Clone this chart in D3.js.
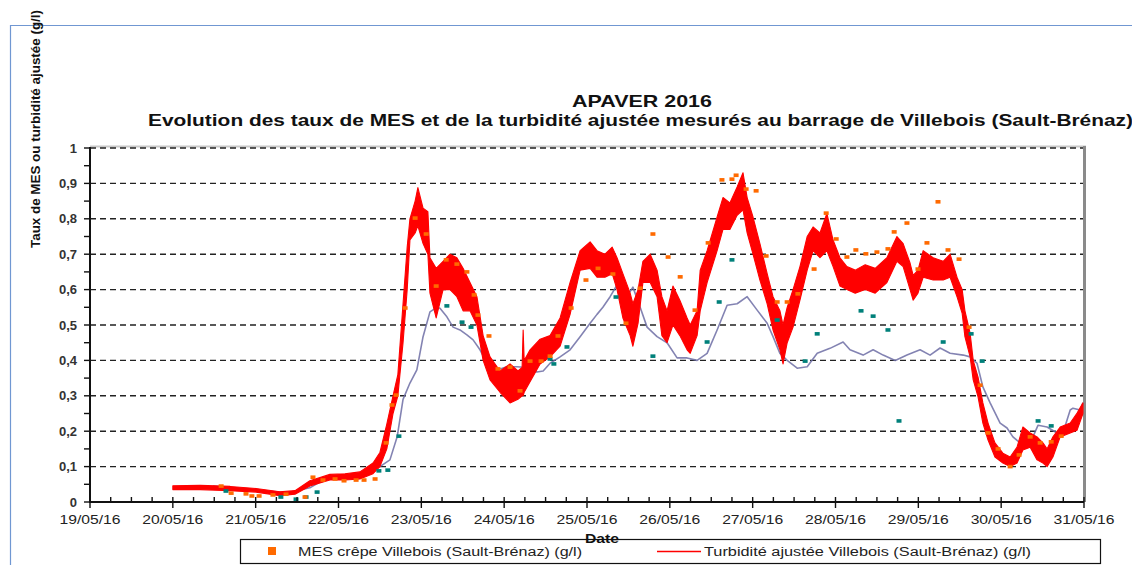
<!DOCTYPE html>
<html>
<head>
<meta charset="utf-8">
<script src="https://cdn.jsdelivr.net/npm/d3@7/dist/d3.min.js"></script>
<style>
  html, body { margin: 0; padding: 0; background: #fff; }
  svg { display: block; font-family: Arial, "Liberation Sans", sans-serif; }
</style>
</head>
<body>
<svg id="chart" width="1132" height="565"></svg>
<script>
// times are hours counted from 19/05/2016 00:00
const dayLabels = ['19/05/16','20/05/16','21/05/16','22/05/16','23/05/16','24/05/16',
  '25/05/16','26/05/16','27/05/16','28/05/16','29/05/16','30/05/16','31/05/16'];
const yTicks = [0, 0.1, 0.2, 0.3, 0.4, 0.5, 0.6, 0.7, 0.8, 0.9, 1];
const yTickLabels = ['0','0,1','0,2','0,3','0,4','0,5','0,6','0,7','0,8','0,9','1'];

// turbidité ajustée (red) : noisy signal kept as a low / high envelope
const redHours = [24,31.9,40.6,48.1,55,59.4,63.7,69.5,73.9,78.2,82,84,86,87.8,89.2,90.7,91.9,92.7,94.2,95,
  96.5,97.9,98.5,100.3,102.3,104.3,106.3,108.1,110.1,112.1,113.9,115.9,118.8,121.7,124,125.2,125.5,125.8,127.5,
  130.4,133.3,136.2,139.1,142,144.9,146.9,149.2,151.3,152.7,154.4,156.5,157.3,158.8,160.2,162.3,164.3,165.7,
  167.2,168.9,170.9,173,173.9,175.9,176.8,178.8,181.7,183.4,185.4,187.5,189.2,190.4,192.1,194.1,196.2,197.9,
  199.9,200.8,202,203.7,205.7,207.8,209.5,211.5,213.5,215.3,217.3,219.3,221.7,224.6,227.5,230.9,233.8,235.6,
  237.6,238.5,239.9,241.4,244.3,247.2,249.2,251.2,252.7,253.5,255,255.9,257.3,258.7,260.2,262.2,264.5,266.6,
  268.6,270.3,272.4,274.4,276.1,277.3,279,281.1,284,286,287.7];
const redLow = [.035,.035,.032,.028,.018,.022,.045,.062,.062,.065,.08,.1,.15,.25,.3,.45,.6,.74,.76,.78,
  .73,.7,.59,.52,.6,.6,.58,.54,.54,.5,.4,.345,.31,.28,.29,.3,.3,.31,.34,
  .39,.41,.44,.53,.655,.66,.635,.635,.645,.6,.52,.47,.44,.505,.62,.62,.58,.47,
  .45,.5,.47,.43,.42,.47,.54,.62,.71,.77,.77,.81,.825,.76,.7,.627,.56,.486,
  .43,.39,.45,.494,.57,.655,.71,.69,.71,.665,.61,.6,.59,.6,.59,.62,.68,.665,
  .6,.57,.59,.635,.627,.627,.635,.58,.533,.467,.41,.345,.297,.223,.175,.127,.11,.1,
  .11,.147,.155,.119,.11,.1,.127,.184,.195,.203,.25];
const redHigh = [.046,.047,.044,.038,.029,.032,.06,.078,.08,.085,.11,.14,.22,.3,.36,.56,.72,.8,.85,.888,
  .83,.82,.69,.66,.68,.7,.69,.66,.62,.58,.47,.41,.37,.39,.37,.38,.486,.4,.43,
  .46,.47,.52,.62,.71,.735,.71,.7,.72,.69,.645,.59,.56,.6,.68,.7,.655,.58,
  .54,.61,.57,.52,.5,.54,.655,.71,.805,.86,.845,.89,.93,.86,.805,.73,.645,.58,
  .54,.5,.55,.6,.665,.75,.777,.76,.815,.74,.69,.665,.655,.67,.66,.69,.75,.73,
  .675,.64,.655,.71,.69,.68,.7,.635,.6,.54,.477,.4,.353,.28,.223,.167,.138,.127,
  .155,.212,.195,.184,.167,.15,.184,.212,.223,.251,.28];

// smoothed grey-blue curve
const blueHours = [35.6,48.4,57.1,63.7,68.7,72.4,78.2,84,86.9,89,90.7,92.7,94.7,96.5,98.5,100.5,101.4,103.4,
  105.2,107.2,109.2,111,113,115,117.9,120.8,123.7,126.6,129.5,131.3,133.3,136.2,139.1,142,144.9,146.9,148.6,
  150.7,152.7,154.1,155.6,157.3,159.4,161.4,164.3,167.2,170.1,173,175.9,178.8,181.7,184.6,187.5,190.4,193.3,
  196.2,197.9,199.9,202,204.9,207.8,210.7,214.4,218.2,220.2,224,226.9,229.8,233.3,236.7,240.5,243.4,246.3,
  249.2,253,255,257,258.7,260.8,263.7,265.7,267.4,269.5,271.5,273.2,274.7,277.3,280.2,281.9,284,284.8,286.9,287.7];
const blueValues = [.045,.034,.026,.04,.068,.076,.079,.1,.119,.184,.29,.336,.373,.467,.537,.55,.547,.523,
  .494,.486,.472,.458,.43,.392,.373,.382,.382,.38,.367,.37,.392,.41,.43,.467,.505,.53,.55,
  .58,.613,.59,.58,.607,.55,.494,.467,.45,.407,.407,.4,.42,.486,.556,.56,.58,.542,
  .505,.467,.42,.4,.378,.382,.42,.434,.452,.43,.415,.43,.415,.4,.415,.43,.415,.435,
  .42,.415,.41,.392,.325,.28,.223,.209,.184,.167,.167,.184,.217,.212,.195,.195,.26,.265,.26,.28];

// MES crêpe Villebois (orange squares)
const mesHours = [38,40.9,45.2,46.9,49,53,56.8,62.3,64.6,67.5,71,73.6,77.1,79.4,82.6,85.8,87.5,88.7,91.3,94.2,
  97.4,100.3,103.2,106.3,109.2,111.3,112.4,115.6,118.2,121.7,124.6,127.5,130.7,133.3,135.6,139.4,143.7,147.2,
  151.5,155.3,159.4,163.1,167.5,171,175.3,179.1,183.1,186,187.2,190.1,193,195.9,199.1,202,205.1,209.8,213.3,
  216.2,219.3,221.9,224.8,228,231.2,233,236.7,239.9,242.5,245.7,248.6,251.8,254.7,257.9,260.2,263.1,266.6,
  269.2,272.4,275.3,278.5,281.4];
const mesValues = [.045,.025,.023,.017,.017,.02,.022,.014,.07,.062,.065,.06,.062,.062,.065,.167,.274,.302,.548,.802,
  .757,.61,.684,.672,.65,.585,.528,.469,.376,.381,.314,.398,.398,.412,.469,.548,.627,.66,
  .644,.505,.604,.757,.692,.636,.542,.732,.91,.912,.923,.884,.879,.695,.565,.565,.588,.658,.816,
  .743,.692,.712,.701,.706,.715,.763,.788,.658,.732,.848,.712,.686,.494,.33,.195,.15,.1,
  .133,.184,.167,.17,.186];

// second sampling series (teal squares)
const tealHours = [39.4,55.3,59.7,62.6,65.8,83.7,86.3,89.5,103.4,107.8,110.4,133.3,134.4,138.2,152.4,163.1,
  178.8,182.3,186,199.1,207.2,210.7,223.4,226.9,231.2,234.4,247.2,255.3,258.5,274.7,278.5];
const tealValues = [.031,.014,.008,.014,.028,.088,.09,.186,.554,.508,.494,.404,.39,.438,.579,.412,
  .452,.565,.684,.514,.398,.475,.54,.525,.486,.229,.452,.475,.398,.229,.215];

const t0 = new Date(2016, 4, 19);
const at = h => new Date(t0.getTime() + h * 3600e3);

const svg = d3.select('#chart');
const L = 90, R = 1084, T = 148, B = 502;
const x = d3.scaleTime().domain([t0, new Date(2016, 4, 31)]).range([L, R]);
const y = d3.scaleLinear().domain([0, 1]).range([B, T]);

// outer blue frame
svg.append('path').attr('d', `M10.5,565 V25.5 H1132`)
  .attr('fill', 'none').attr('stroke', '#7097d2').attr('stroke-width', 1.2);

// titles
svg.append('text').attr('x', 572).attr('y', 107)
  .attr('font-size', 16.5).attr('font-weight', 'bold').attr('fill', '#111')
  .attr('textLength', 140).attr('lengthAdjust', 'spacingAndGlyphs').text('APAVER 2016');
svg.append('text').attr('x', 148).attr('y', 126)
  .attr('font-size', 16.5).attr('font-weight', 'bold').attr('fill', '#111')
  .attr('textLength', 985).attr('lengthAdjust', 'spacingAndGlyphs')
  .text('Evolution des taux de MES et de la turbidité ajustée mesurés au barrage de Villebois (Sault-Brénaz)');

// y axis title
svg.append('text').attr('transform', 'translate(40,248) rotate(-90)')
  .attr('font-size', 12.5).attr('font-weight', 'bold').attr('fill', '#111')
  .attr('textLength', 238).attr('lengthAdjust', 'spacingAndGlyphs')
  .text('Taux de MES ou turbidité ajustée (g/l)');

// plot frame: top and right shadows
svg.append('line').attr('x1', L).attr('x2', R + 2).attr('y1', T - 1.5).attr('y2', T - 1.5)
  .attr('stroke', '#c8c8c8').attr('stroke-width', 2);
svg.append('line').attr('x1', R + 0.5).attr('x2', R + 0.5).attr('y1', T - 2).attr('y2', B)
  .attr('stroke', '#8a8a8a').attr('stroke-width', 3);

// dashed gridlines
svg.append('g').selectAll('line').data(yTicks.slice(1)).join('line')
  .attr('x1', L).attr('x2', R - 1).attr('y1', d => y(d)).attr('y2', d => y(d))
  .attr('stroke', '#222').attr('stroke-width', 1.4).attr('stroke-dasharray', '6 4');

// series: grey-blue curve, red envelope, samples
const blueLine = d3.line().x((d, i) => x(at(blueHours[i]))).y(d => y(d));
svg.append('path').attr('d', blueLine(blueValues))
  .attr('fill', 'none').attr('stroke', '#6d6da5').attr('stroke-opacity', 0.85)
  .attr('stroke-width', 1.6).attr('stroke-linejoin', 'round');

const redArea = d3.area()
  .x((d, i) => x(at(redHours[i])))
  .y0((d, i) => y(redLow[i])).y1((d, i) => y(redHigh[i]));
svg.append('path').attr('d', redArea(redHours))
  .attr('fill', '#ff0000').attr('stroke', '#ff0000').attr('stroke-width', 1.1)
  .attr('stroke-linejoin', 'round');

svg.append('g').selectAll('rect').data(tealValues).join('rect')
  .attr('x', (d, i) => x(at(tealHours[i])) - 2.5).attr('y', d => y(d) - 1.8)
  .attr('width', 5).attr('height', 3.6).attr('fill', '#00807a');

svg.append('g').selectAll('rect').data(mesValues).join('rect')
  .attr('x', (d, i) => x(at(mesHours[i])) - 2.5).attr('y', d => y(d) - 1.8)
  .attr('width', 5).attr('height', 3.6).attr('fill', '#ff6a00');

// axes
const days = d3.timeDay.range(t0, new Date(2016, 4, 31, 1));
const quarters = d3.timeHour.every(6).range(t0, new Date(2016, 4, 31, 1));
svg.append('g').selectAll('line').data(quarters).join('line')
  .attr('x1', d => x(d)).attr('x2', d => x(d)).attr('y1', B - 5)
  .attr('y2', d => d.getHours() === 0 ? B + 6 : B)
  .attr('stroke', '#111').attr('stroke-width', 1.4);
svg.append('g').selectAll('text').data(days).join('text')
  .attr('x', d => x(d)).attr('y', 524).attr('text-anchor', 'middle')
  .attr('font-size', 13).attr('fill', '#222')
  .attr('textLength', 61).attr('lengthAdjust', 'spacingAndGlyphs')
  .text((d, i) => dayLabels[i]);

const yMinor = d3.range(0, 1.001, 0.05);
svg.append('g').selectAll('line').data(yMinor).join('line')
  .attr('x1', L - 6).attr('x2', L).attr('y1', d => y(d)).attr('y2', d => y(d))
  .attr('stroke', '#111').attr('stroke-width', 1.4);
svg.append('g').selectAll('text').data(yTicks).join('text')
  .attr('x', 77).attr('y', d => y(d) + 4.5).attr('text-anchor', 'end')
  .attr('font-size', 13).attr('font-weight', 'bold').attr('fill', '#333')
  .text((d, i) => yTickLabels[i]);

svg.append('line').attr('x1', L).attr('x2', L).attr('y1', T - 1).attr('y2', B + 1)
  .attr('stroke', '#111').attr('stroke-width', 2);
svg.append('line').attr('x1', L - 1).attr('x2', R).attr('y1', B).attr('y2', B)
  .attr('stroke', '#111').attr('stroke-width', 2);

// legend
const lg = svg.append('g');
lg.append('rect').attr('x', 240.5).attr('y', 539.5).attr('width', 860).attr('height', 24)
  .attr('fill', '#fff').attr('stroke', '#111').attr('stroke-width', 1.2);
lg.append('rect').attr('x', 268).attr('y', 547).attr('width', 8).attr('height', 8).attr('fill', '#ff6a00');
lg.append('text').attr('x', 298).attr('y', 556).attr('font-size', 12).attr('fill', '#222')
  .attr('textLength', 284).attr('lengthAdjust', 'spacingAndGlyphs')
  .text('MES crêpe Villebois (Sault-Brénaz) (g/l)');
lg.append('line').attr('x1', 657).attr('x2', 701).attr('y1', 551.5).attr('y2', 551.5)
  .attr('stroke', '#ff0000').attr('stroke-width', 1.3);
lg.append('text').attr('x', 704).attr('y', 556).attr('font-size', 12).attr('fill', '#222')
  .attr('textLength', 327).attr('lengthAdjust', 'spacingAndGlyphs')
  .text('Turbidité ajustée Villebois (Sault-Brénaz) (g/l)');

svg.append('text').attr('x', 585).attr('y', 543).attr('font-size', 12).attr('font-weight', 'bold')
  .attr('fill', '#111').attr('textLength', 34).attr('lengthAdjust', 'spacingAndGlyphs').text('Date');
</script>
</body>
</html>
